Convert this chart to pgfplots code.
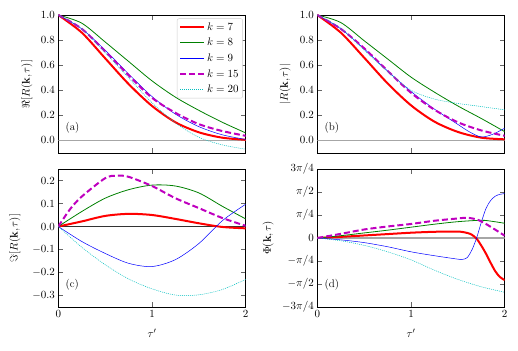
\documentclass[border=0pt]{standalone}
\usepackage{pgfplots}
\pgfplotsset{compat=1.18}
\definecolor{mplgreen}{RGB}{0,128,0}
\definecolor{mplmag}{RGB}{191,0,191}
\definecolor{mplcyan}{RGB}{0,191,191}

\newcommand{\lbl}{\fontsize{11}{13}\selectfont}

\pgfplotsset{
  panel/.style={
    width=187.4pt, height=138pt, scale only axis,
    xmin=0, xmax=2, xtick={0,1,2},
    tick align=inside, major tick length=5pt,
    every tick/.style={black!60, line width=0.7pt},
    axis line style={line width=0.7pt},
    tick label style={font=\lbl},
    label style={font=\lbl},
    xlabel style={at={(axis description cs:0.5,-0.19)}, anchor=center},
    clip=true,
  },
  k7/.style={red, line width=2pt, smooth},
  k8/.style={mplgreen, line width=0.8pt, smooth},
  k9/.style={blue, line width=0.5pt, smooth},
  k15/.style={mplmag, line width=2pt, dash pattern=on 6pt off 3pt, smooth},
  k20/.style={mplcyan, line width=0.5pt, dash pattern=on 1pt off 1pt, smooth},
  zeroline/.style={gray!70, line width=1.2pt, forget plot},
}

\begin{document}
\begin{tikzpicture}
\useasboundingbox (0,0) rectangle (518pt,350pt);

% (a) real part
\begin{axis}[panel, at={(58.3pt,197pt)}, anchor=south west,
    ymin=-0.1, ymax=1.0, ytick={0,0.2,...,1.0},
    yticklabel style={/pgf/number format/.cd, fixed, fixed zerofill, precision=1},
    xticklabels={},
    ylabel={$\Re[R(\mathbf{k},\tau)]$},
    ylabel style={at={(axis description cs:-0.167,0.5)}, anchor=center},
    legend style={at={(0.985,0.975)}, anchor=north east, draw=black!20,
      rounded corners=2pt, font=\lbl, row sep=2.5pt, inner sep=2pt},
    legend cell align=left,
    legend image code/.code={\draw[#1] (0pt,0pt) -- (24pt,0pt);},
]
\addplot[zeroline] coordinates {(0,0)(2,0)};
\addplot[k7] coordinates {(0,1)(0.25,0.86)(0.5,0.655)(0.75,0.45)(1,0.275)(1.25,0.145)(1.5,0.065)(1.75,0.022)(2,0.005)};
\addplot[k8] coordinates {(0,1)(0.25,0.935)(0.5,0.785)(0.75,0.63)(1,0.475)(1.25,0.345)(1.5,0.24)(1.75,0.145)(2,0.06)};
\addplot[k9] coordinates {(0,1)(0.25,0.89)(0.5,0.72)(0.75,0.53)(1,0.35)(1.25,0.21)(1.5,0.11)(1.75,0.045)(2,0.008)};
\addplot[k15] coordinates {(0,1)(0.25,0.89)(0.5,0.71)(0.75,0.52)(1,0.34)(1.25,0.22)(1.5,0.13)(1.75,0.075)(2,0.037)};
\addplot[k20] coordinates {(0,1)(0.25,0.89)(0.5,0.70)(0.75,0.50)(1,0.30)(1.25,0.14)(1.5,0.025)(1.75,-0.035)(2,-0.07)};
\legend{$k=7$,$k=8$,$k=9$,$k=15$,$k=20$}
\node[anchor=west, font=\lbl] at (rel axis cs:0.02,0.18) {(a)};
\end{axis}

% (b) modulus
\begin{axis}[panel, at={(317.3pt,197pt)}, anchor=south west,
    ymin=-0.1, ymax=1.0, ytick={0,0.2,...,1.0},
    yticklabel style={/pgf/number format/.cd, fixed, fixed zerofill, precision=1},
    xticklabels={},
    ylabel={$|R(\mathbf{k},\tau)|$},
    ylabel style={at={(axis description cs:-0.172,0.5)}, anchor=center},
]
\addplot[zeroline] coordinates {(0,0)(2,0)};
\addplot[k7] coordinates {(0,1)(0.25,0.86)(0.5,0.66)(0.75,0.455)(1,0.28)(1.25,0.15)(1.5,0.068)(1.75,0.022)(2,0.009)};
\addplot[k8] coordinates {(0,1)(0.25,0.94)(0.5,0.795)(0.75,0.65)(1,0.505)(1.25,0.385)(1.5,0.275)(1.75,0.175)(2,0.07)};
\addplot[k9] coordinates {(0,1)(0.25,0.89)(0.5,0.73)(0.75,0.553)(1,0.39)(1.25,0.25)(1.5,0.128)(1.625,0.068)(1.75,0.028)(1.875,0.05)(2,0.098)};
\addplot[k15] coordinates {(0,1)(0.25,0.89)(0.5,0.735)(0.75,0.555)(1,0.38)(1.25,0.245)(1.5,0.145)(1.75,0.08)(2,0.037)};
\addplot[k20] coordinates {(0,1)(0.25,0.895)(0.5,0.72)(0.75,0.55)(1,0.40)(1.25,0.33)(1.5,0.295)(1.75,0.27)(2,0.244)};
\node[anchor=west, font=\lbl] at (rel axis cs:0.02,0.18) {(b)};
\end{axis}

% (c) imaginary part
\begin{axis}[panel, at={(58.3pt,43pt)}, anchor=south west,
    ymin=-0.35, ymax=0.25, ytick={-0.3,-0.2,-0.1,0,0.1,0.2},
    yticklabel style={/pgf/number format/.cd, fixed, fixed zerofill, precision=1},
    xlabel={$\tau'$},
    ylabel={$\Im[R(\mathbf{k},\tau)]$},
    ylabel style={at={(axis description cs:-0.231,0.5)}, anchor=center},
]
\addplot[black!80, line width=0.6pt, forget plot] coordinates {(0,0)(2,0)};
\addplot[k7] coordinates {(0,0)(0.25,0.022)(0.5,0.046)(0.75,0.055)(1,0.05)(1.25,0.033)(1.5,0.014)(1.75,-0.002)(2,-0.008)};
\addplot[k8] coordinates {(0,0)(0.25,0.065)(0.5,0.123)(0.75,0.16)(1,0.18)(1.25,0.176)(1.5,0.146)(1.75,0.088)(2,0.033)};
\addplot[k9] coordinates {(0,0)(0.25,-0.065)(0.5,-0.117)(0.75,-0.16)(1,-0.174)(1.25,-0.144)(1.5,-0.074)(1.75,0.025)(2,0.097)};
\addplot[k15] coordinates {(0,0)(0.125,0.075)(0.25,0.13)(0.5,0.21)(0.625,0.221)(0.75,0.216)(1,0.176)(1.25,0.123)(1.5,0.08)(1.75,0.037)(2,0.003)};
\addplot[k20] coordinates {(0,0)(0.25,-0.09)(0.5,-0.166)(0.75,-0.228)(1,-0.271)(1.25,-0.298)(1.5,-0.297)(1.75,-0.274)(2,-0.23)};
\node[anchor=west, font=\lbl] at (rel axis cs:0.02,0.16) {(c)};
\end{axis}

% (d) phase, in units of pi/4
\begin{axis}[panel, at={(317.3pt,43pt)}, anchor=south west,
    ymin=-3, ymax=3, ytick={-3,-2,-1,0,1,2,3},
    yticklabels={$-3\pi/4$,$-\pi/2$,$-\pi/4$,$0$,$\pi/4$,$\pi/2$,$3\pi/4$},
    xlabel={$\tau'$},
    ylabel={$\Phi(\mathbf{k},\tau)$},
    ylabel style={at={(axis description cs:-0.263,0.5)}, anchor=center},
]
\addplot[zeroline] coordinates {(0,0)(2,0)};
\addplot[k7] coordinates {(0,0)(0.25,0.05)(0.5,0.11)(0.75,0.17)(1,0.23)(1.25,0.27)(1.5,0.28)(1.6,0.22)(1.65,0.14)(1.7,-0.03)(1.75,-0.33)(1.8,-0.68)(1.85,-1.08)(1.9,-1.45)(1.95,-1.7)(2,-1.83)};
\addplot[k8] coordinates {(0,0)(0.25,0.1)(0.5,0.22)(0.75,0.34)(1,0.47)(1.25,0.6)(1.5,0.71)(1.75,0.77)(1.875,0.72)(2,0.64)};
\addplot[k9] coordinates {(0,0)(0.25,-0.08)(0.5,-0.2)(0.75,-0.38)(1,-0.6)(1.25,-0.77)(1.5,-0.92)(1.55,-0.93)(1.6,-0.85)(1.65,-0.52)(1.7,0.0)(1.75,0.68)(1.8,1.28)(1.85,1.63)(1.9,1.82)(1.95,1.9)(2,1.93)};
\addplot[k15] coordinates {(0,0)(0.25,0.18)(0.5,0.37)(0.75,0.5)(1,0.61)(1.25,0.75)(1.5,0.85)(1.6,0.88)(1.7,0.81)(1.75,0.72)(1.8,0.61)(1.9,0.36)(2,0.1)};
\addplot[k20] coordinates {(0,0)(0.25,-0.12)(0.5,-0.32)(0.75,-0.6)(1,-0.95)(1.25,-1.4)(1.5,-1.8)(1.75,-2.12)(2,-2.36)};
\node[anchor=west, font=\lbl] at (rel axis cs:0.02,0.16) {(d)};
\end{axis}
\end{tikzpicture}
\end{document}
